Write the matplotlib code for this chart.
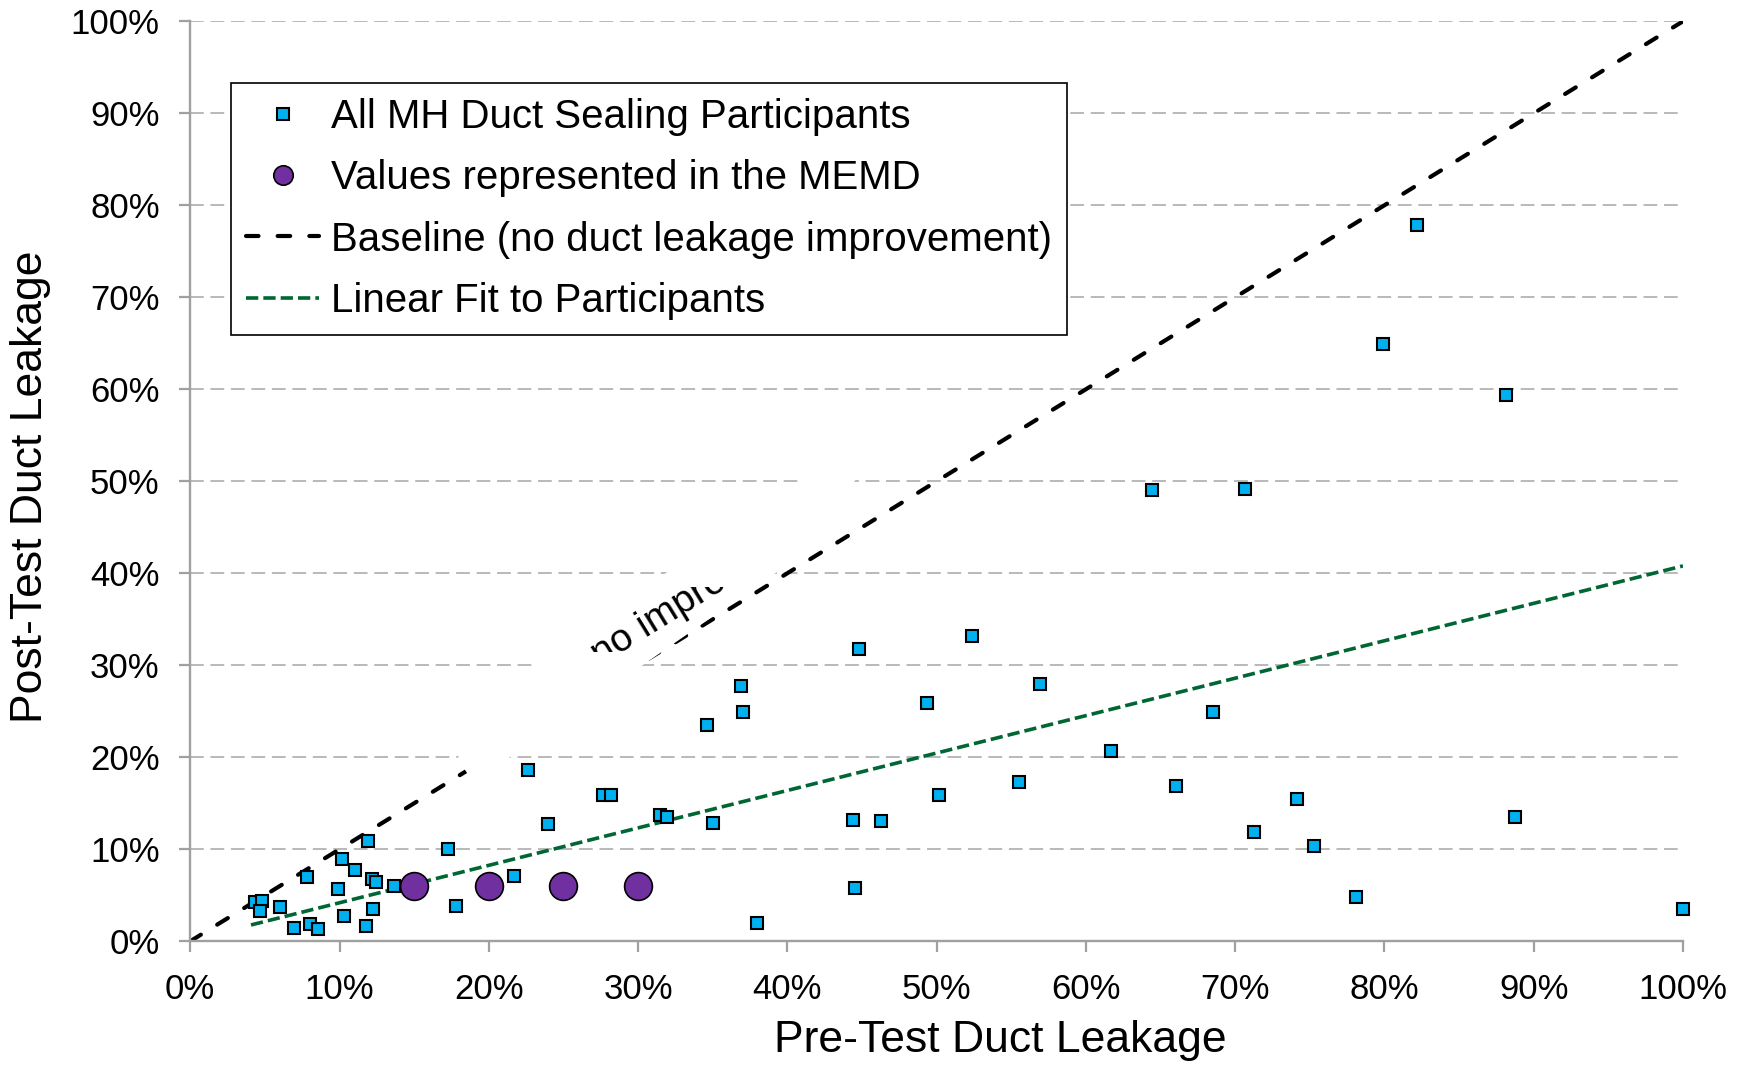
import matplotlib
matplotlib.use("Agg")
import matplotlib.pyplot as plt
from matplotlib.patches import Polygon, Rectangle
from matplotlib.ticker import PercentFormatter, MultipleLocator

plt.rcParams['font.family'] = ['Liberation Sans', 'DejaVu Sans']

# ---- data (fractions) ----
pre_test = [0.0433, 0.0478, 0.0467, 0.0601, 0.0695, 0.0779, 0.0802, 0.0853,
            0.0991, 0.1014, 0.1029, 0.1103, 0.1192, 0.1177, 0.1221, 0.1244,
            0.1226, 0.1366, 0.1728, 0.1780, 0.2172, 0.2264, 0.2396, 0.2766,
            0.2820, 0.3150, 0.3196, 0.3465, 0.3502, 0.3693, 0.3704, 0.3794,
            0.4441, 0.4452, 0.4479, 0.4628, 0.4939, 0.5015, 0.5240, 0.5553,
            0.5691, 0.6165, 0.6440, 0.6601, 0.6852, 0.7064, 0.7128, 0.7414,
            0.7527, 0.7812, 0.7990, 0.8215, 0.8814, 0.8875, 1.0000]
post_test = [0.0424, 0.0441, 0.0329, 0.0376, 0.0148, 0.0702, 0.0188, 0.0134,
             0.0568, 0.0895, 0.0275, 0.0775, 0.1094, 0.0170, 0.0674, 0.0648,
             0.0348, 0.0601, 0.1000, 0.0387, 0.0708, 0.1862, 0.1278, 0.1590,
             0.1590, 0.1376, 0.1350, 0.2348, 0.1290, 0.2775, 0.2496, 0.0199,
             0.1322, 0.0583, 0.3174, 0.1308, 0.2587, 0.1594, 0.3320, 0.1735,
             0.2797, 0.2072, 0.4901, 0.1688, 0.2489, 0.4911, 0.1186, 0.1548,
             0.1034, 0.0477, 0.6496, 0.7788, 0.5939, 0.1348, 0.0347]

memd_pre = [0.15, 0.20, 0.25, 0.30]
memd_post = [0.06, 0.06, 0.06, 0.06]

baseline_x = [0.0, 1.0]
baseline_y = [0.0, 1.0]

fit_x = [0.0407, 1.0]
fit_y = [0.0177, 0.408]

# white mask partly hiding a rotated label on the baseline
mask_vertices = [(0.1896, 0.1725), (0.3990, 0.4080), (0.4940, 0.5980),
                 (0.2297, 0.3000), (0.1790, 0.1990)]
label_text = "no improvement"
label_xy = (0.2744, 0.2992)
label_band = (0.3148, 0.3854)

series_labels = ["All MH Duct Sealing Participants",
                 "Values represented in the MEMD",
                 "Baseline (no duct leakage improvement)",
                 "Linear Fit to Participants"]
x_title = "Pre-Test Duct Leakage"
y_title = "Post-Test Duct Leakage"

# ---- figure ----
fig = plt.figure(figsize=(17.5, 10.65), dpi=100)
ax = fig.add_axes([0.1087, 0.1162, 0.9617 - 0.1087, 0.98 - 0.1162])
ax.set_xlim(0, 1)
ax.set_ylim(0, 1)

spine_col = '#a0a0a0'
for s in ['top', 'right']:
    ax.spines[s].set_visible(False)
for s in ['left', 'bottom']:
    ax.spines[s].set_color(spine_col)
    ax.spines[s].set_linewidth(1.7)

ax.xaxis.set_major_locator(MultipleLocator(0.1))
ax.yaxis.set_major_locator(MultipleLocator(0.1))
ax.xaxis.set_major_formatter(PercentFormatter(xmax=1, decimals=0))
ax.yaxis.set_major_formatter(PercentFormatter(xmax=1, decimals=0))
ax.tick_params(axis='both', direction='out', length=8, width=1.6,
               color=spine_col, labelsize=25, labelcolor='black')
ax.tick_params(axis='y', pad=14)
ax.tick_params(axis='x', pad=15)

ax.set_axisbelow(True)
ax.yaxis.grid(True, color='#a6a6a6', linewidth=1.1, linestyle=(0, (9, 4.4)))
ax.xaxis.grid(False)

ax.plot(baseline_x, baseline_y, color='black', linewidth=3,
        dashes=(3.0, 4.6), dash_capstyle='round', zorder=2,
        label=series_labels[2])
ax.plot(fit_x, fit_y, color='#006633', linewidth=2.6,
        dashes=(3.4, 1.4), zorder=2, label=series_labels[3])

mask = Polygon(mask_vertices, closed=True, facecolor='white',
               edgecolor='none', zorder=2.5)
ax.add_patch(mask)

txt = ax.text(label_xy[0], label_xy[1], label_text, fontsize=28,
              rotation=31.65, rotation_mode='anchor', ha='left',
              va='baseline', zorder=2.6)
clip = Rectangle((0.0, label_band[0]), 1.0, label_band[1] - label_band[0],
                 transform=ax.transData)
txt.set_clip_path(clip)
txt.set_clip_on(True)

sq = ax.plot(pre_test, post_test, linestyle='none', marker='s',
             markersize=9.3, markerfacecolor='#00B0F0',
             markeredgecolor='black', markeredgewidth=1.5, zorder=4,
             clip_on=False, label=series_labels[0])[0]
ci = ax.plot(memd_pre, memd_post, linestyle='none', marker='o',
             markersize=20, markerfacecolor='#7030A0',
             markeredgecolor='black', markeredgewidth=1.2, zorder=5,
             clip_on=False, label=series_labels[1])[0]

handles, labels = ax.get_legend_handles_labels()
order = [series_labels.index(l) for l in labels]
hl = sorted(zip(order, handles, labels))
leg = ax.legend([h for _, h, _ in hl], [l for _, _, l in hl],
                loc='upper left', bbox_to_anchor=(0.0273, 0.9334),
                borderaxespad=0, fontsize=29, frameon=True, fancybox=False,
                edgecolor='black', framealpha=1, handlelength=1.8,
                handletextpad=0.3, labelspacing=0.58, borderpad=0.38)
leg.get_frame().set_linewidth(1.2)
leg.legend_handles[0].set_markersize(8.5)
leg.legend_handles[1].set_markersize(14)

ax.set_xlabel(x_title, fontsize=32)
ax.set_ylabel(y_title, fontsize=32)
ax.xaxis.set_label_coords(0.543, -0.086)
ax.yaxis.set_label_coords(-0.093, 0.4938)

fig.savefig('out.png', dpi=100, facecolor='white')
